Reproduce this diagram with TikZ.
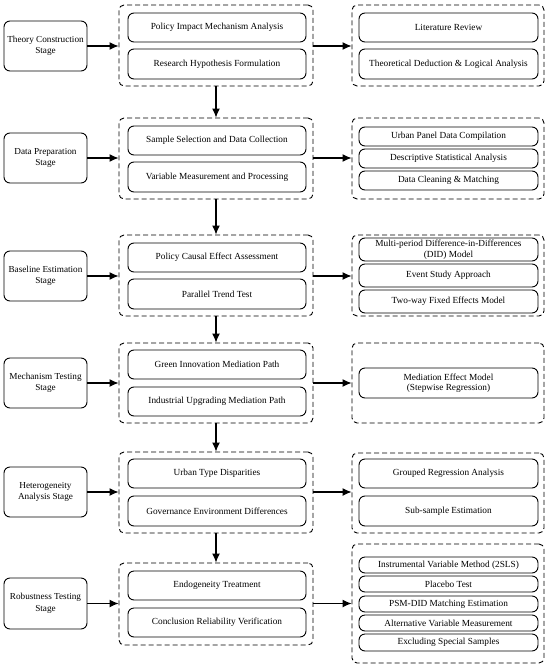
\documentclass[tikz,border=0pt]{standalone}
\usepackage{fontspec}
\setmainfont{Liberation Serif}
\usetikzlibrary{arrows.meta}
\tikzset{
  stagebox/.style={draw, line width=0.9pt, rounded corners=6pt, inner sep=0pt, align=center, font=\fontsize{9.2}{11.5}\selectfont},
  grpbox/.style={draw, line width=0.9pt, dash pattern=on 5pt off 3pt, rounded corners=5pt, inner sep=0pt},
  itembox/.style={draw, line width=0.9pt, rounded corners=6pt, inner sep=0pt, align=center, font=\fontsize{9.3}{10.5}\selectfont},
  flow/.style={line width=1.1pt, -{Latex[length=9pt,width=8pt]}},
}
\newcommand\ibox[7]{\node[#1, minimum width=#4pt, minimum height={(#6-#5)*1pt}] (#2) at ({#3},{(#5+#6)/2}) {#7};}
\begin{document}
\begin{tikzpicture}[x=1pt,y=-1pt]
\useasboundingbox (0,0) rectangle (550,669);
% stages
\ibox{stagebox}{s1}{45.5}{83}{21}{71}{Theory Construction\\Stage}
\ibox{stagebox}{s2}{45.5}{83}{133}{183}{Data Preparation\\Stage}
\ibox{stagebox}{s3}{45.5}{83}{251}{301}{Baseline Estimation\\Stage}
\ibox{stagebox}{s4}{45.5}{83}{358}{408}{Mechanism Testing\\Stage}
\ibox{stagebox}{s5}{45.5}{83}{467}{517}{Heterogeneity\\Analysis Stage}
\ibox{stagebox}{s6}{45.5}{83}{578}{629}{Robustness Testing\\Stage}
% middle groups
\ibox{grpbox}{m1}{216}{194}{5}{86}{}
\ibox{grpbox}{m2}{216}{194}{118}{199}{}
\ibox{grpbox}{m3}{216}{194}{235}{316}{}
\ibox{grpbox}{m4}{216}{194}{343}{423}{}
\ibox{grpbox}{m5}{216}{194}{452}{533}{}
\ibox{grpbox}{m6}{216}{194}{563}{645}{}
% right groups
\ibox{grpbox}{r1}{448}{192}{5}{86}{}
\ibox{grpbox}{r2}{448}{192}{118}{199}{}
\ibox{grpbox}{r3}{448}{192}{235}{316}{}
\ibox{grpbox}{r4}{448}{192}{343}{423}{}
\ibox{grpbox}{r5}{448}{192}{453}{533}{}
\ibox{grpbox}{r6}{448}{192}{544}{663}{}
% middle items
\ibox{itembox}{m1a}{217}{178}{13}{42}{Policy Impact Mechanism Analysis}
\ibox{itembox}{m1b}{217}{178}{49}{79}{Research Hypothesis Formulation}
\ibox{itembox}{m2a}{217}{178}{126}{155}{Sample Selection and Data Collection}
\ibox{itembox}{m2b}{217}{178}{162}{192}{Variable Measurement and Processing}
\ibox{itembox}{m3a}{217}{178}{243}{272}{Policy Causal Effect Assessment}
\ibox{itembox}{m3b}{217}{178}{279}{309}{Parallel Trend Test}
\ibox{itembox}{m4a}{217}{178}{350}{379}{Green Innovation Mediation Path}
\ibox{itembox}{m4b}{217}{178}{387}{416}{Industrial Upgrading Mediation Path}
\ibox{itembox}{m5a}{217}{178}{459}{488}{Urban Type Disparities}
\ibox{itembox}{m5b}{217}{178}{496}{526}{Governance Environment Differences}
\ibox{itembox}{m6a}{217}{178}{571}{600}{Endogeneity Treatment}
\ibox{itembox}{m6b}{217}{178}{608}{637}{Conclusion Reliability Verification}
% right items
\ibox{itembox}{r1a}{448.5}{179}{13}{42}{Literature Review}
\ibox{itembox}{r1b}{448.5}{179}{49}{79}{Theoretical Deduction \& Logical Analysis}
\ibox{itembox}{r2a}{448.5}{179}{127}{146}{Urban Panel Data Compilation}
\ibox{itembox}{r2b}{448.5}{179}{149}{168}{Descriptive Statistical Analysis}
\ibox{itembox}{r2c}{448.5}{179}{171}{190}{Data Cleaning \& Matching}
\ibox{itembox}{r3a}{448.5}{179}{238}{261}{Multi-period Difference-in-Differences\\(DID) Model}
\ibox{itembox}{r3b}{448.5}{179}{264}{287}{Event Study Approach}
\ibox{itembox}{r3c}{448.5}{179}{290}{313}{Two-way Fixed Effects Model}
\ibox{itembox}{r4a}{448.5}{179}{368}{398}{Mediation Effect Model\\(Stepwise Regression)}
\ibox{itembox}{r5a}{448.5}{179}{459}{488}{Grouped Regression Analysis}
\ibox{itembox}{r5b}{448.5}{179}{496}{526}{Sub-sample Estimation}
\ibox{itembox}{r6a}{448.5}{179}{557}{573}{Instrumental Variable Method (2SLS)}
\ibox{itembox}{r6b}{448.5}{179}{576}{592}{Placebo Test}
\ibox{itembox}{r6c}{448.5}{179}{596}{612}{PSM-DID Matching Estimation}
\ibox{itembox}{r6d}{448.5}{179}{615}{631}{Alternative Variable Measurement}
\ibox{itembox}{r6e}{448.5}{179}{634}{651}{Excluding Special Samples}
% arrows
\foreach \i in {1,...,6}{
  \draw[flow] (s\i.east) -- (s\i.east -| m\i.west);
  \draw[flow] (m\i.east |- s\i.east) -- (r\i.west |- s\i.east);
}
\foreach \i/\j in {1/2,2/3,3/4,4/5,5/6}{
  \draw[flow] (m\i.south) -- (m\j.north);
}
\end{tikzpicture}
\end{document}
